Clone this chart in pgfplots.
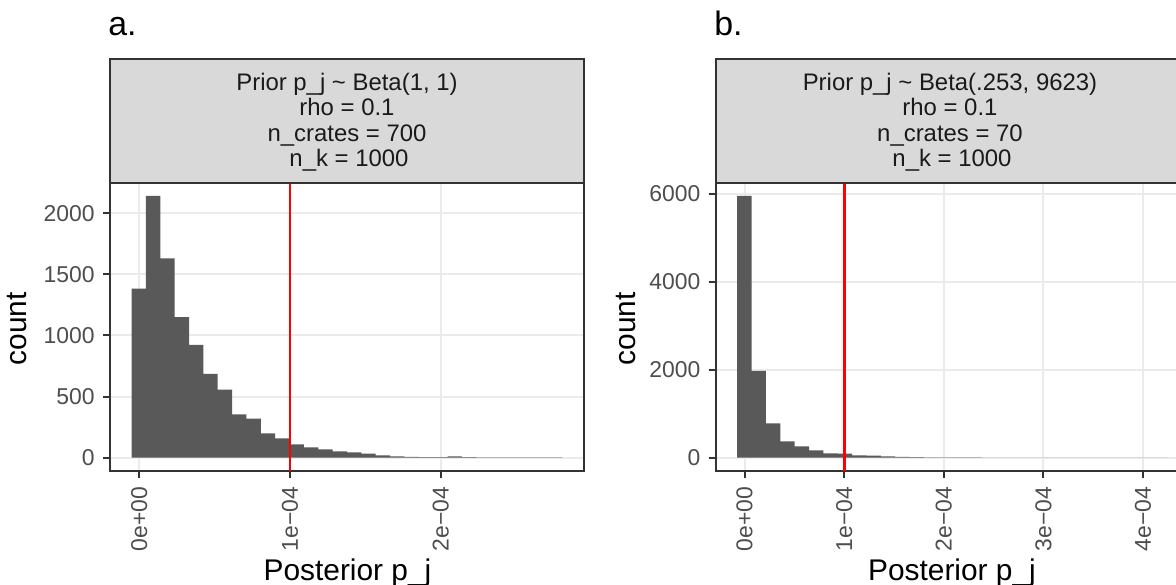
\documentclass[border=0pt]{standalone}
\usepackage{fontspec}
\setmainfont{Liberation Sans}
\usepackage{pgfplots}
\pgfplotsset{compat=1.18}

\definecolor{barfill}{HTML}{595959}
\definecolor{gridc}{HTML}{EBEBEB}
\definecolor{framec}{HTML}{333333}
\definecolor{tickc}{HTML}{4D4D4D}
\definecolor{stripfill}{HTML}{D9D9D9}
\definecolor{striptext}{HTML}{1A1A1A}

\pgfplotsset{
  ggpanel/.style={
    scale only axis, width=237bp, height=144bp, anchor=south west,
    axis line style={framec, line width=1bp},
    grid=major, major grid style={gridc, line width=1bp},
    tick align=outside, major tick length=3.5bp,
    tick style={framec, line width=1bp},
    xtick pos=bottom, ytick pos=left,
    ticklabel style={font=\fontsize{11.5}{13}\selectfont, text=tickc},
    xticklabel style={yshift=-4.5bp, rotate=90, anchor=east, inner sep=0pt},
    yticklabel style={inner sep=0pt, xshift=-4bp},
  },
}

\begin{document}
\begin{tikzpicture}

% ---- panel a: Beta(1,1) prior ----
\begin{axis}[ggpanel, at={(55bp,57.15bp)},
  xmin=-0.194, xmax=2.951, ymin=-107.15, ymax=2250.15,
  xtick={0,1,2}, xticklabels={0e+00,1e−04,2e−04},
  ytick={0,500,1000,1500,2000}, yticklabels={0,500,1000,1500,2000}]
\addplot[ybar interval, fill=barfill, draw=none] coordinates {
  (-0.051,1384) (0.0443,2143) (0.1396,1630) (0.2349,1150) (0.3302,922)
  (0.4255,686) (0.5208,556) (0.6161,353) (0.7114,320) (0.8067,198)
  (0.902,157) (0.9973,109) (1.0926,84) (1.1879,68) (1.2832,52)
  (1.3785,43) (1.4738,33) (1.5691,19) (1.6644,11) (1.7597,5)
  (1.855,4) (1.9503,4) (2.0456,11) (2.1409,3) (2.2362,2)
  (2.3315,2) (2.4268,2) (2.5221,1) (2.6174,1) (2.7127,1) (2.808,1)};
\addplot[red, line width=1.4bp] coordinates {(1,-107.15) (1,2250.15)};
\end{axis}

% ---- panel b: Beta(.253, 9623) prior ----
\begin{axis}[ggpanel, at={(357.85bp,57.15bp)},
  xmin=-0.289, xmax=4.468, ymin=-297.8, ymax=6253.8,
  xtick={0,1,2,3,4}, xticklabels={0e+00,1e−04,2e−04,3e−04,4e−04},
  ytick={0,2000,4000,6000}, yticklabels={0,2000,4000,6000}]
\addplot[ybar interval, fill=barfill, draw=none] coordinates {
  (-0.073,5956) (0.0712,1975) (0.2153,777) (0.3595,369) (0.5037,256)
  (0.6478,166) (0.792,98) (0.9362,90) (1.0803,53) (1.2245,45)
  (1.3687,30) (1.5128,15) (1.657,10) (1.8012,6) (1.9453,4)
  (2.0895,3) (2.2337,3) (2.3778,2) (2.522,2) (2.6662,2)
  (2.8103,1) (2.9545,1) (3.0987,1) (3.2428,1) (3.387,1)
  (3.5312,1) (3.6753,1) (3.8195,1) (3.9637,1) (4.1078,1) (4.252,1)};
\addplot[red, line width=1.4bp] coordinates {(1,-297.8) (1,6253.8)};
\end{axis}

% ---- strips, titles, tags (pixel coordinates, y down) ----
\begin{scope}[x=0.5bp, y=-0.5bp, shift={(0bp,292.5bp)}]
  \draw[framec, fill=stripfill, line width=1bp] (110,59) rectangle (584,182.7);
  \draw[framec, fill=stripfill, line width=1bp] (715.7,59) rectangle (1189.9,182.7);
  \begin{scope}[every node/.style={anchor=base, text=striptext, inner sep=0pt,
      font=\fontsize{12}{14}\selectfont}]
    \node at (347,90.7) {Prior p\_j \textasciitilde{} Beta(1, 1)};
    \node at (347,116) {rho = 0.1};
    \node at (347,141.3) {n\_crates = 700};
    \node at (349,166.7) {n\_k = 1000};
    \node at (950,90.7) {Prior p\_j \textasciitilde{} Beta(.253, 9623)};
    \node at (950,116) {rho = 0.1};
    \node at (950,141.3) {n\_crates = 70};
    \node at (952,166.7) {n\_k = 1000};
  \end{scope}
  \begin{scope}[every node/.style={inner sep=0pt, font=\fontsize{15}{18}\selectfont}]
    \node[anchor=base] at (347.5,580.7) {Posterior p\_j};
    \node[anchor=base] at (952,580.7) {Posterior p\_j};
    \node[rotate=90] at (17,329) {count};
    \node[rotate=90] at (626,329) {count};
  \end{scope}
  \node[anchor=base west, inner sep=0pt, font=\fontsize{17}{20}\selectfont] at (108,36) {a.};
  \node[anchor=base west, inner sep=0pt, font=\fontsize{17}{20}\selectfont] at (714,36) {b.};
\end{scope}

\pgfresetboundingbox
\path[use as bounding box] (0,0) rectangle (588bp,292.5bp);
\end{tikzpicture}
\end{document}
